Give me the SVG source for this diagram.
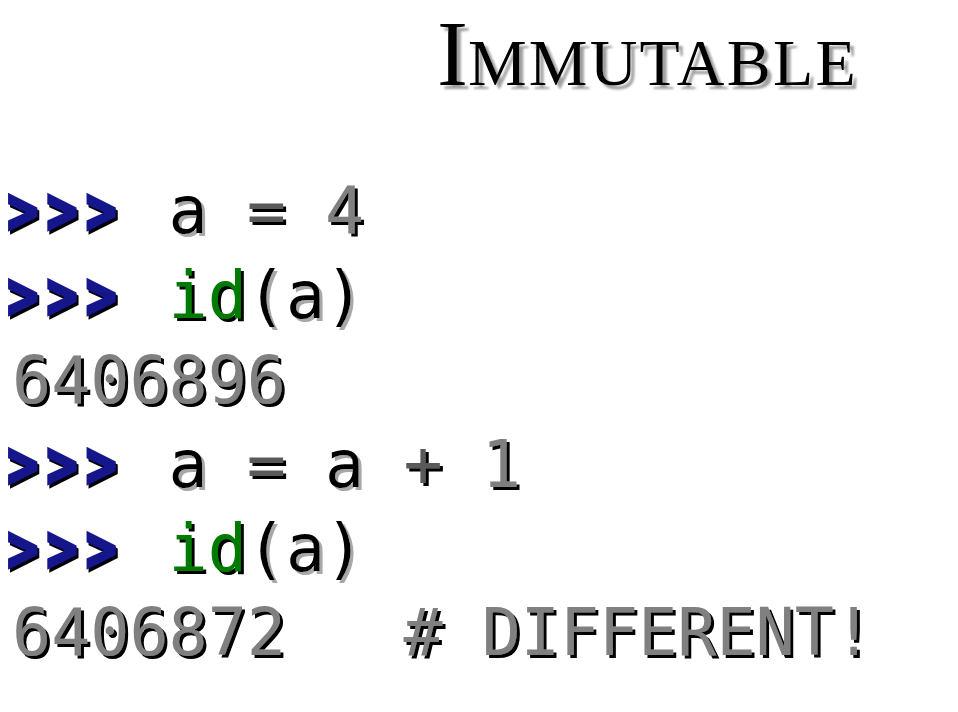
<svg xmlns="http://www.w3.org/2000/svg" width="958" height="712" viewBox="0 0 958 712">
<defs>
<filter id="sb" x="-10%" y="-20%" width="130%" height="150%">
<feFlood flood-color="#000"/><feComposite in2="SourceAlpha" operator="in"/><feOffset dx="3" dy="3"/>
<feMerge><feMergeNode/><feMergeNode in="SourceGraphic"/></feMerge>
</filter>
<filter id="sg" x="-10%" y="-20%" width="130%" height="150%">
<feFlood flood-color="#a8a8a8"/><feComposite in2="SourceAlpha" operator="in"/><feOffset dx="3" dy="3"/>
<feMerge><feMergeNode/><feMergeNode in="SourceGraphic"/></feMerge>
</filter>
<filter id="st" x="-5%" y="-20%" width="115%" height="150%">
<feFlood flood-color="#a0a0a0"/><feComposite in2="SourceAlpha" operator="in"/><feGaussianBlur stdDeviation="1"/><feOffset dx="4" dy="4"/>
<feMerge><feMergeNode/><feMergeNode in="SourceGraphic"/></feMerge>
</filter>
</defs>
<style>
.t{font-family:"Liberation Serif","DejaVu Serif",serif;fill:#000;filter:url(#st)}
.c{font-family:"DejaVu Sans Mono","Liberation Mono",monospace;font-size:65px}
.pr{font-family:"DejaVu Sans Mono","Liberation Mono",monospace;font-size:65px;font-weight:bold;fill:#16168c;stroke:#16168c;stroke-width:3px;letter-spacing:10px;filter:url(#sb)}
.n{fill:#000;filter:url(#sg)}
.o{fill:#808080;filter:url(#sb)}
.d{fill:#5a5a5a;filter:url(#sb)}
.k{fill:#007a00;filter:url(#sb)}
</style>
<rect width="958" height="712" fill="#fff"/>
<g id="title">
<text class="t" x="437" y="85"><tspan font-size="93">I</tspan><tspan font-size="66" letter-spacing="2.2">MMUTABLE</tspan></text>
</g>
<g id="line1">
<text class="pr" transform="translate(7,233) scale(0.8,1)">&gt;&gt;&gt;</text>
<text class="c n" x="168.6" y="233">a</text>
<text class="c d" x="246.8" y="233">=</text>
<text class="c o" x="325.1" y="233">4</text>
</g>
<g id="line2">
<text class="pr" transform="translate(7,318) scale(0.8,1)">&gt;&gt;&gt;</text>
<text class="c k" x="168.6" y="318">id</text>
<text class="c n" x="246.8" y="318">(a)</text>
</g>
<g id="line3">
<text class="c o" x="12" y="403">6406896</text>
</g>
<g id="line4">
<text class="pr" transform="translate(7,487) scale(0.8,1)">&gt;&gt;&gt;</text>
<text class="c n" x="168.6" y="487">a</text>
<text class="c d" x="246.8" y="487">=</text>
<text class="c n" x="325.1" y="487">a</text>
<text class="c d" x="403.4" y="487">+</text>
<text class="c o" x="481.7" y="487">1</text>
</g>
<g id="line5">
<text class="pr" transform="translate(7,571) scale(0.8,1)">&gt;&gt;&gt;</text>
<text class="c k" x="168.6" y="571">id</text>
<text class="c n" x="246.8" y="571">(a)</text>
</g>
<g id="line6">
<text class="c o" x="12" y="655">6406872</text>
<text class="c o" x="403.4" y="655">#</text>
<text class="c o" x="481.7" y="655">DIFFERENT!</text>
</g>
</svg>
